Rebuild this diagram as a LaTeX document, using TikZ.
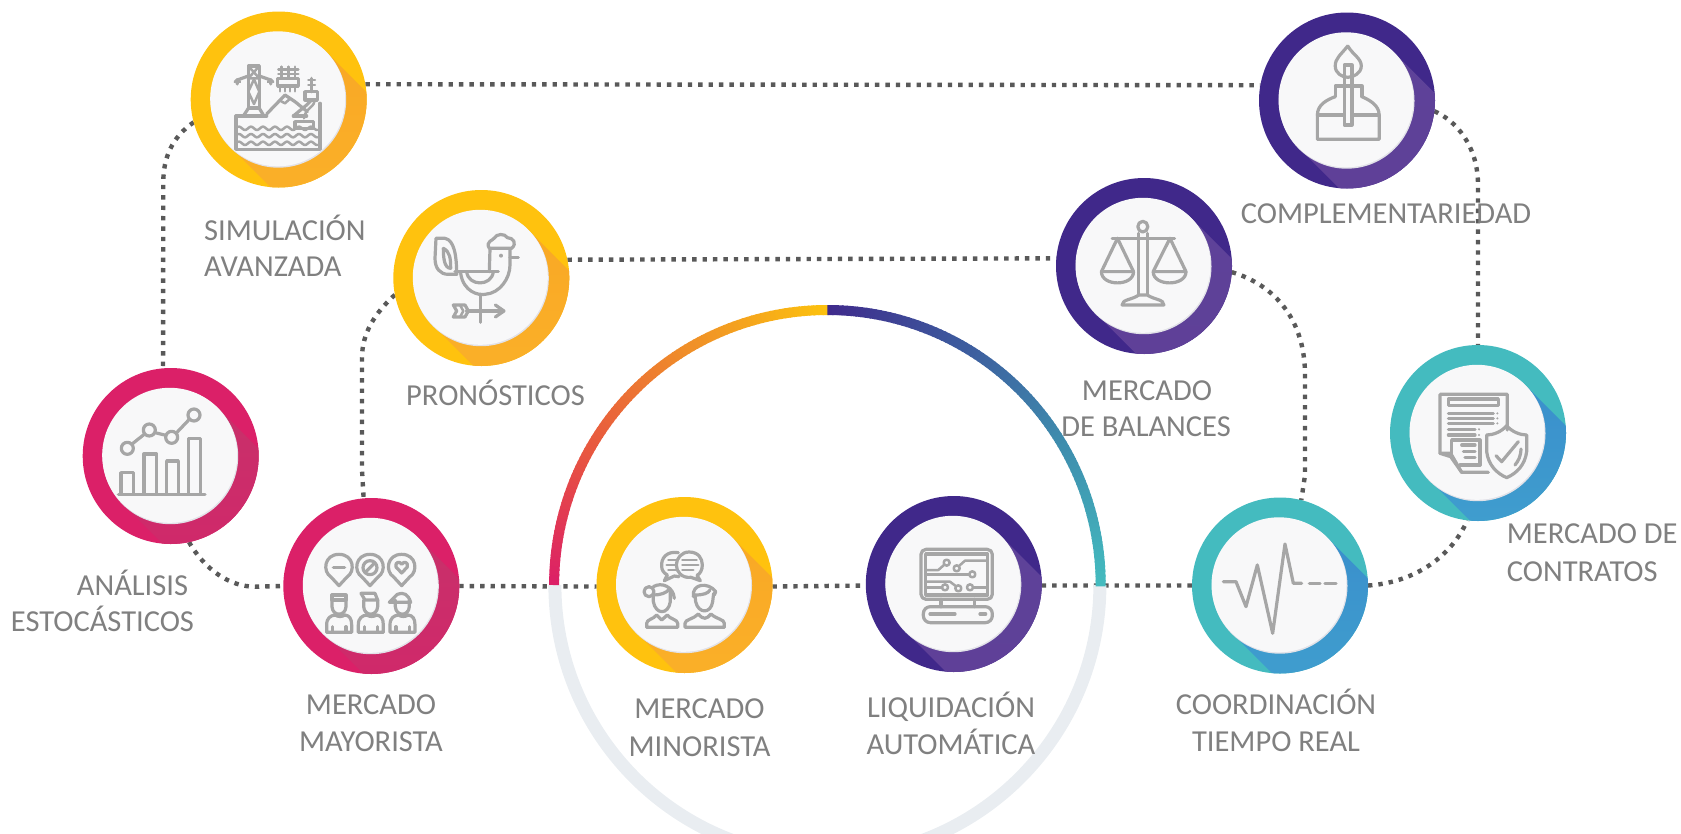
\documentclass[tikz,border=0pt]{standalone}
\usepackage{fontspec}
\setmainfont{Carlito}
\pgfdeclarelayer{back}
\pgfsetlayers{back,main}
\definecolor{yelA}{HTML}{FFC20E}\definecolor{yelB}{HTML}{F9A825}\definecolor{yelC}{HTML}{FBB42A}
\definecolor{purA}{HTML}{40288A}\definecolor{purB}{HTML}{5E4299}\definecolor{purC}{HTML}{5F3F97}
\definecolor{creA}{HTML}{DB2068}\definecolor{creB}{HTML}{C8306A}\definecolor{creC}{HTML}{D4256A}
\definecolor{teaA}{HTML}{44BBBF}\definecolor{teaB}{HTML}{3A8FCC}\definecolor{teaC}{HTML}{42A5CF}
\definecolor{iconGray}{HTML}{A6A6A6}
\definecolor{txtGray}{HTML}{808080}
\definecolor{dotGray}{HTML}{595959}
\definecolor{innerFill}{HTML}{F8F8F9}
\definecolor{softEdge}{HTML}{E2E2E8}
\definecolor{ringGray}{HTML}{E9EDF1}
\definecolor{arcA}{HTML}{DC1F66}\definecolor{arcB}{HTML}{E8583F}\definecolor{arcC}{HTML}{F09028}\definecolor{arcD}{HTML}{FCC10E}
\definecolor{arcE}{HTML}{3F2B8C}\definecolor{arcF}{HTML}{3D5C9E}\definecolor{arcG}{HTML}{3E8EAE}\definecolor{arcH}{HTML}{44BBBF}
\tikzset{
  ringbase/.style={circle,minimum size=176pt,inner sep=0pt,outer sep=0pt},
  dotline/.style={draw=dotGray,line width=4.4pt,dash pattern=on 4.4pt off 6pt},
  lab/.style={anchor=base,text=txtGray,inner sep=0pt,yshift=-1pt,font=\fontsize{30.5}{36}\selectfont},
  labl/.style={lab,anchor=base west},
  zm/.style n args={4}{shift={(#1,-#2)},x=#3 pt,y=-#4 pt},
  ico/.style={draw=iconGray,line width=3.2pt,line join=round,line cap=round},
  icot/.style={draw=iconGray,line width=2.5pt,line join=round,line cap=round},
}
\newcommand{\ringnode}[4]{%
  \fill[#2] (#1.center) circle (88pt);
  \begin{scope}
    \clip (#1.center) circle (88pt);
    \shade[top color=#3,bottom color=#4] (#1.center) ++(-1,0.7) ++(47.7,47.7) -- ++(120,-120) -- ++(-95.4,-95.4) -- ++(-120,120) -- cycle;
  \end{scope}
  \fill[softEdge] (#1.center) ++(-0.3,-0.4) circle (67.8pt);
  \fill[innerFill] (#1.center) ++(-1,0.7) circle (67.5pt);
}
\newcommand{\gradarc}[4]{%
  \foreach \i in {0,...,29}{%
    \pgfmathsetmacro{\p}{100*\i/29}%
    \pgfmathsetmacro{\aa}{#1+(#2-#1)*\i/30}%
    \pgfmathsetmacro{\bb}{#1+(#2-#1)*(\i+1.3)/30}%
    \draw[color={#4!\p!#3},line width=10pt] ([shift={(\aa:273.3 and 275)}]bigc) arc[start angle=\aa,end angle=\bb,x radius=273.3,y radius=275];
  }%
}
\begin{document}
\begin{tikzpicture}[x=1pt,y=1pt]
\useasboundingbox (0,0) rectangle (1681,-833);
% node frames
\node[ringbase] (sim) at (278.7,-99.5) {};
\node[ringbase] (pron) at (481.3,-278) {};
\node[ringbase] (comp) at (1347,-100.5) {};
\node[ringbase] (bal) at (1144,-266) {};
\node[ringbase] (ana) at (170.7,-456) {};
\node[ringbase] (may) at (371.3,-586) {};
\node[ringbase] (mino) at (684.5,-585) {};
\node[ringbase] (liq) at (953.8,-584) {};
\node[ringbase] (tr) at (1280,-585.5) {};
\node[ringbase] (con) at (1478,-433) {};
\coordinate (bigc) at (827.4,-585);
% connectors
\begin{pgfonlayer}{back}
\draw[dotline] (sim.10) -- (comp.170);
\draw[dotline] (sim.195) .. controls (172,-137) and (163.3,-158) .. (163.3,-182) -- (ana.95);
\draw[dotline] (ana.-78) .. controls (205,-570) and (230,-586.7) .. (255,-586.7) -- (may.180);
\draw[dotline] (may.-0.5) -- (mino.181);
\draw[dotline] (mino.-1) -- (liq.181.8);
\draw[dotline] (liq.-1.8) -- (tr.180.8);
\draw[dotline] (pron.12) -- (bal.175.6);
\draw[dotline] (pron.191) .. controls (375,-313) and (362,-333) .. (362,-358) -- (362,-470) -- (may.95);
\draw[dotline] (comp.-7) .. controls (1455,-120) and (1478,-145) .. (1478,-185) -- (con.90);
\draw[dotline] (bal.-4) .. controls (1275,-285) and (1305,-320) .. (1305,-375) -- (1305,-475) -- (tr.76);
\draw[dotline] (tr.0) .. controls (1410,-583) and (1450,-560) .. (con.-97.5);
\end{pgfonlayer}
% big ring
\begin{scope}
\clip (0,0) rectangle (1681,-833);
\draw[ringGray,line width=13pt] ([shift={(180:272.5)}]bigc) arc[start angle=180,end angle=360,radius=272.5];
\end{scope}
\gradarc{180}{150}{arcA}{arcB}
\gradarc{150}{120}{arcB}{arcC}
\gradarc{120}{90}{arcC}{arcD}
\gradarc{90}{60}{arcE}{arcF}
\gradarc{60}{30}{arcF}{arcG}
\gradarc{30}{0}{arcG}{arcH}
% rings
\ringnode{sim}{yelA}{yelB}{yelC}
\ringnode{pron}{yelA}{yelB}{yelC}
\ringnode{mino}{yelA}{yelB}{yelC}
\ringnode{comp}{purA}{purB}{purC}
\ringnode{bal}{purA}{purB}{purC}
\ringnode{liq}{purA}{purB}{purC}
\ringnode{ana}{creA}{creB}{creC}
\ringnode{may}{creA}{creB}{creC}
\ringnode{tr}{teaA}{teaB}{teaC}
\ringnode{con}{teaA}{teaB}{teaC}
% icon: simulation
\begin{scope}[zm={230}{50}{0.3333}{0.3333},ico]
\draw (55,48) -- (88,48) -- (88,172) -- (55,172) -- cycle;
\draw[icot] (55,48) -- (88,85) -- (55,85) -- (88,48);
\draw[icot] (72,88) -- (88,125) -- (72,162) -- (55,125) -- cycle;
\draw (22,102) -- (22,90) -- (55,78);
\draw (88,78) -- (122,90) -- (122,102);
\draw[icot] (14,96) -- (22,88) -- (30,96);
\draw[icot] (114,96) -- (122,88) -- (130,96);
\draw (42,195) -- (55,175) -- (88,175) -- (100,195);
\draw (110,198) -- (18,198) -- (18,298) -- (270,298) -- (270,160);
\draw (190,198) -- (230,198);
\foreach \yy in {235,257,280}{\draw[icot] plot[domain=25:262,samples=70] (\x,{\yy+5*sin(\x*10)});}
\draw[icot] (145,58) -- (205,58) (145,72) -- (205,72) (155,50) -- (155,85) (175,50) -- (175,85) (195,50) -- (195,85);
\draw (143,85) -- (205,85) -- (205,108) -- (143,108) -- cycle;
\draw[icot] (150,108) -- (150,124) (165,108) -- (165,124) (180,108) -- (180,124) (195,108) -- (195,124);
\draw (110,192) -- (165,135) -- (195,155) -- (232,185);
\draw[icot] (150,152) -- (165,160) -- (178,148);
\draw (190,198) -- (230,165) -- (245,150);
\draw (245,85) -- (245,125);
\draw[icot] (235,90) -- (255,90) (235,105) -- (255,105);
\draw (225,125) -- (262,125) -- (262,150) -- (225,150) -- cycle;
\draw[icot] (255,150) .. controls (255,170) and (225,175) .. (222,205);
\draw (195,215) -- (250,215) -- (250,235) -- (195,235) -- cycle;
\end{scope}
% icon: rooster
\begin{scope}[zm={430}{225}{0.3333}{0.3333},ico]
\draw (18,40) -- (45,40) .. controls (72,45) and (80,90) .. (80,148) -- (55,148) .. controls (30,148) and (15,130) .. (15,100) -- cycle;
\draw (40,70) .. controls (40,95) and (42,130) .. (62,130) .. controls (62,100) and (60,80) .. (40,70);
\draw (75,140) -- (205,140);
\draw (110,140) .. controls (115,185) and (185,185) .. (190,140);
\draw (92,145) .. controls (100,200) and (145,212) .. (165,208) .. controls (210,205) and (240,160) .. (240,120) -- (240,72);
\draw (178,140) -- (180,72);
\draw (178,70) .. controls (165,50) and (190,45) .. (192,40) .. controls (200,25) and (225,25) .. (232,38) .. controls (250,38) and (262,55) .. (245,70) -- cycle;
\draw (240,98) -- (265,98);
\fill[iconGray] (213,92) circle (6);
\draw (152,208) -- (152,292);
\draw (110,258) -- (218,258);
\draw (196,240) -- (222,258) -- (196,276);
\draw (70,240) -- (105,240) -- (115,258) -- (105,276) -- (70,276) -- (80,258) -- cycle;
\draw[icot] (90,240) -- (100,258) -- (90,276);
\end{scope}
% icon: burner
\begin{scope}[zm={1030}{0}{0.357}{0.3333},ico]
\draw (890,138) .. controls (870,165) and (855,175) .. (855,198) .. controls (855,220) and (875,232) .. (890,232) .. controls (905,232) and (928,220) .. (928,198) .. controls (928,175) and (905,165) .. (890,138);
\draw (880,195) -- (880,375) -- (902,375) -- (902,195) -- cycle;
\draw (855,290) -- (855,258) -- (930,258) -- (930,290);
\draw (855,290) .. controls (830,300) and (805,315) .. (805,345) -- (805,418) -- (978,418) -- (978,345) .. controls (978,315) and (950,300) .. (930,290);
\draw (805,345) -- (880,345) (902,345) -- (978,345);
\end{scope}
% icon: scale
\begin{scope}[zm={1030}{0}{0.357}{0.3333},ico]
\draw (305,700) -- (305,885) (328,700) -- (328,885);
\draw (316,680) circle[x radius=14,y radius=16];
\draw (230,715) -- (405,715);
\draw (245,715) -- (200,815) -- (290,815) -- cycle;
\draw (392,715) -- (345,815) -- (437,815) -- cycle;
\draw (200,815) .. controls (200,860) and (290,860) .. (290,815);
\draw (345,815) .. controls (345,860) and (437,860) .. (437,815);
\draw (258,915) .. controls (258,898) and (285,900) .. (305,885) -- (328,885) .. controls (350,900) and (375,898) .. (375,915) -- cycle;
\end{scope}
% icon: chart
\begin{scope}[zm={50}{360}{0.3333}{0.3333},ico]
\draw (205,403) -- (465,403);
\draw (213,403) -- (213,338) -- (250,338) -- (250,403);
\draw (282,403) -- (282,282) -- (320,282) -- (320,403);
\draw (350,403) -- (350,303) -- (385,303) -- (385,403);
\draw (415,403) -- (415,235) -- (452,235) -- (452,403);
\draw (232,265) circle (18);
\draw (298,210) circle (18);
\draw (365,232) circle (18);
\draw (432,165) circle (18);
\draw (245,253) -- (284,222) (315,218) -- (348,226) (380,218) -- (418,178);
\end{scope}
% icon: people
\begin{scope}[zm={320}{545}{0.3333}{0.3333},ico]
\foreach \cx/\nn in {57/1,150/2,245/3}{
\draw (\cx-24,96) .. controls (\cx-50,80) and (\cx-45,28) .. (\cx,28) .. controls (\cx+45,28) and (\cx+50,80) .. (\cx+24,96) -- (\cx,122) -- cycle;
}
\draw (40,68) -- (74,68);
\draw (150,68) circle (21);
\draw (138,80) -- (162,56);
\draw (245,84) -- (228,66) .. controls (224,50) and (240,48) .. (245,58) .. controls (250,48) and (266,50) .. (262,66) -- cycle;
\foreach \ox in {0,95,190}{
\begin{scope}[xshift=\ox*0.3333pt]
\draw (20,262) -- (20,240) .. controls (20,218) and (32,212) .. (45,210) .. controls (55,216) and (65,216) .. (75,210) .. controls (88,212) and (95,220) .. (95,240) -- (95,262) -- cycle;
\draw (38,245) -- (38,262) (78,245) -- (78,262);
\draw (36,165) -- (36,185) .. controls (38,215) and (76,215) .. (78,185) -- (78,165);
\end{scope}
}
\draw (36,165) -- (36,150) -- (78,150) -- (78,165) -- cycle;
\draw (123,145) -- (165,145) -- (173,165) -- (135,165) -- cycle;
\draw (208,172) -- (232,148) .. controls (250,140) and (265,148) .. (272,172) -- cycle;
\end{scope}
% icon: customers
\begin{scope}[zm={635}{540}{0.3333}{0.3333},ico]
\draw (130,38) .. controls (95,32) and (78,55) .. (80,78) .. controls (80,90) and (85,98) .. (97,105) -- (88,122) -- (118,108) -- (132,110);
\draw (162,36) .. controls (190,36) and (202,55) .. (202,75) .. controls (202,90) and (195,102) .. (186,106) -- (196,122) -- (168,112) .. controls (140,115) and (124,95) .. (124,75) .. controls (124,55) and (140,36) .. (162,36) -- cycle;
\draw[icot] (142,60) -- (185,60) (142,75) -- (190,75) (142,90) -- (175,90);
\draw[icot] (100,60) -- (122,60) (95,75) -- (122,75) (100,90) -- (122,90);
\draw (42,155) circle (15);
\draw (55,140) .. controls (80,125) and (115,140) .. (118,175);
\draw (55,165) .. controls (75,165) and (95,160) .. (105,145);
\draw (55,160) -- (55,185) .. controls (62,225) and (100,225) .. (106,185) -- (106,150);
\draw (35,262) -- (35,250) .. controls (35,238) and (55,238) .. (65,225) -- (80,240) -- (97,225) .. controls (105,238) and (128,238) .. (128,250) -- (128,262) -- cycle;
\draw (175,170) .. controls (170,130) and (220,125) .. (242,155) -- (238,165);
\draw (180,165) .. controls (205,165) and (220,160) .. (225,150);
\draw (180,165) -- (182,185) .. controls (190,222) and (228,222) .. (233,185) -- (236,160);
\draw (150,262) -- (150,250) .. controls (150,238) and (175,238) .. (190,222) .. controls (205,240) and (215,238) .. (228,222) .. controls (245,238) and (268,238) .. (268,250) -- (268,262) -- cycle;
\end{scope}
% icon: terminal
\begin{scope}[zm={905}{540}{0.3333}{0.3333},ico]
\draw[rounded corners=5pt] (48,28) rectangle (262,178);
\draw (62,42) rectangle (248,165);
\draw (108,178) -- (108,200) (208,178) -- (208,200);
\draw[rounded corners=7pt] (55,200) rectangle (262,248);
\draw (75,222) -- (150,222) (225,222) -- (242,222);
\draw[icot] (62,90) -- (100,90) -- (118,74);
\draw[icot] (125,68) circle (9);
\draw[icot] (155,85) circle (9);
\draw[icot] (162,78) -- (180,62) -- (248,62);
\draw[icot] (62,103) -- (193,103);
\draw[icot] (202,103) circle (9);
\draw[icot] (62,125) -- (135,125) -- (152,138);
\draw[icot] (62,142) -- (111,142);
\draw[icot] (120,142) circle (9);
\draw[icot] (160,145) circle (9);
\draw[icot] (195,142) circle (9);
\draw[icot] (204,142) -- (248,142);
\end{scope}
% icon: pulse
\begin{scope}[zm={1150}{340}{0.3333}{0.3333},ico]
\draw (220,725) -- (258,725) -- (288,800) -- (322,675) -- (368,880) -- (405,612) -- (430,730) -- (455,730);
\draw (478,730) -- (510,730) (525,730) -- (558,730);
\end{scope}
% icon: contract
\begin{scope}[zm={1430}{385}{0.3333}{0.3333},ico]
\draw (175,262) -- (95,262) -- (62,215) -- (30,205) -- (30,28) -- (232,28) -- (232,135);
\draw (55,42) rectangle (205,62);
\draw (55,85) -- (190,85) (55,100) -- (190,100) (55,115) -- (190,115);
\draw (55,133) -- (135,133) (55,150) -- (135,150);
\fill[iconGray] (202,85) circle (3.5) (202,100) circle (3.5) (202,115) circle (3.5) (147,133) circle (3.5) (147,150) circle (3.5);
\draw (65,205) -- (65,165) -- (150,165) -- (150,240);
\draw (95,180) -- (135,180) (100,200) -- (135,200) (105,218) -- (135,218);
\draw (30,205) -- (62,205) -- (95,262);
\draw (90,240) -- (150,240);
\draw (230,122) .. controls (245,140) and (270,150) .. (290,150) -- (290,200) .. controls (285,240) and (260,265) .. (230,278) .. controls (200,265) and (175,240) .. (170,200) -- (170,150) .. controls (190,150) and (215,140) .. (230,122) -- cycle;
\draw (198,212) -- (215,230) -- (265,170);
\draw (273,192) .. controls (272,215) and (265,228) .. (255,240);
\end{scope}
% labels
\node[labl] (t1a) at (204,-239) {SIMULACIÓN};
\node[labl] (t1b) at (204,-275) {AVANZADA};
\node[labl] (t2) at (406,-404) {PRONÓSTICOS};
\node[lab] (t3) at (1386,-222.7) {COMPLEMENTARIEDAD};
\node[lab] (t4a) at (1147,-399) {MERCADO};
\node[lab] (t4b) at (1146,-435.7) {DE BALANCES};
\node[lab] (t5a) at (132.5,-594) {ANÁLISIS};
\node[lab] (t5b) at (102.5,-630.7) {ESTOCÁSTICOS};
\node[lab] (t6a) at (371,-713) {MERCADO};
\node[lab] (t6b) at (371,-750.7) {MAYORISTA};
\node[lab] (t7a) at (699.5,-717.7) {MERCADO};
\node[lab] (t7b) at (699.5,-755.7) {MINORISTA};
\node[lab] (t8a) at (951,-716) {LIQUIDACIÓN};
\node[lab] (t8b) at (951,-753) {AUTOMÁTICA};
\node[lab] (t9a) at (1276,-713) {COORDINACIÓN};
\node[lab] (t9b) at (1276,-750) {TIEMPO REAL};
\node[labl] (t10a) at (1506.7,-542.7) {MERCADO DE};
\node[labl] (t10b) at (1506.7,-580) {CONTRATOS};
\end{tikzpicture}
\end{document}
